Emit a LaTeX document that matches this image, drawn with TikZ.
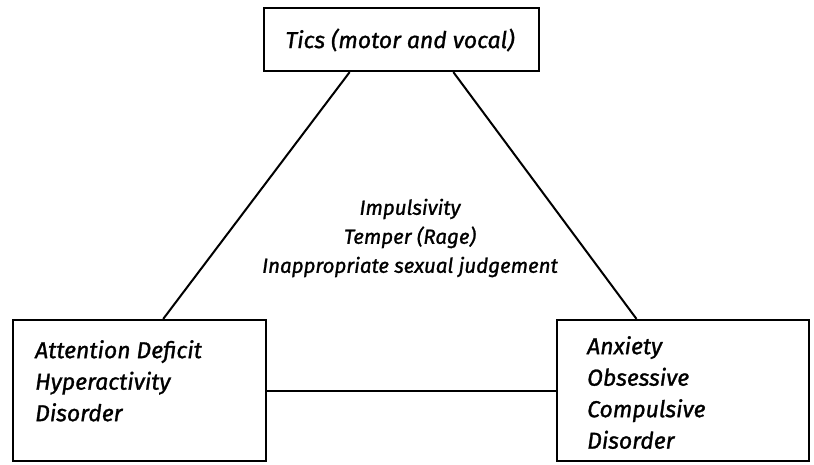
\documentclass[tikz,border=0pt]{standalone}
\usepackage{fontspec}
\setmainfont{Fira Sans}[ItalicFeatures = {FakeBold = 1.2}]
\usepackage{tikz}
\usetikzlibrary{calc}
\usetikzlibrary{positioning}
\tikzset{box/.style = {draw, line width = 2.2pt, rectangle, inner sep = 0}}
\tikzset{boxtext/.style = {anchor = north west, align = left, inner sep = 0, font = \fontsize{23}{31.5}\selectfont\itshape}}

\begin{document}
\begin{tikzpicture}[x = 1pt, y = -1pt]
      \useasboundingbox (0, 0) rectangle (814, 464);
      \node [box, minimum width = 275, minimum height = 63] (tics) at (401.5, 39.5) {};
      \node [box, minimum width = 253, minimum height = 141] (adhd) at (139.5, 390.5) {};
      \node [box, minimum width = 252, minimum height = 141] (ocd) at (683, 390.5) {};
      \node [font = \fontsize{23}{31.5}\selectfont\itshape] (ticstext) at (400, 40) {Tics (motor and vocal)};
      \node [boxtext] (adhdtext) at (35, 340) {Attention Deficit\\Hyperactivity\\Disorder};
      \node [boxtext] (ocdtext) at (587, 336) {Anxiety\\Obsessive\\Compulsive\\Disorder};
      \node [align = center, font = \fontsize{20.5}{29}\selectfont\itshape] (common) at (410, 238) {Impulsivity\\Temper (Rage)\\Inappropriate sexual judgement};
      \coordinate (ticsl) at ($(tics.south west)!0.313!(tics.south east)$);
      \coordinate (ticsr) at ($(tics.south west)!0.687!(tics.south east)$);
      \coordinate (adhdt) at ($(adhd.north west)!0.593!(adhd.north east)$);
      \coordinate (ocdt) at ($(ocd.north west)!0.317!(ocd.north east)$);
      \draw [line width = 2pt] (ticsl) -- (adhdt);
      \draw [line width = 2pt] (ticsr) -- (ocdt);
      \draw [line width = 2pt] (adhd) -- (ocd);
    \end{tikzpicture}
\end{document}
